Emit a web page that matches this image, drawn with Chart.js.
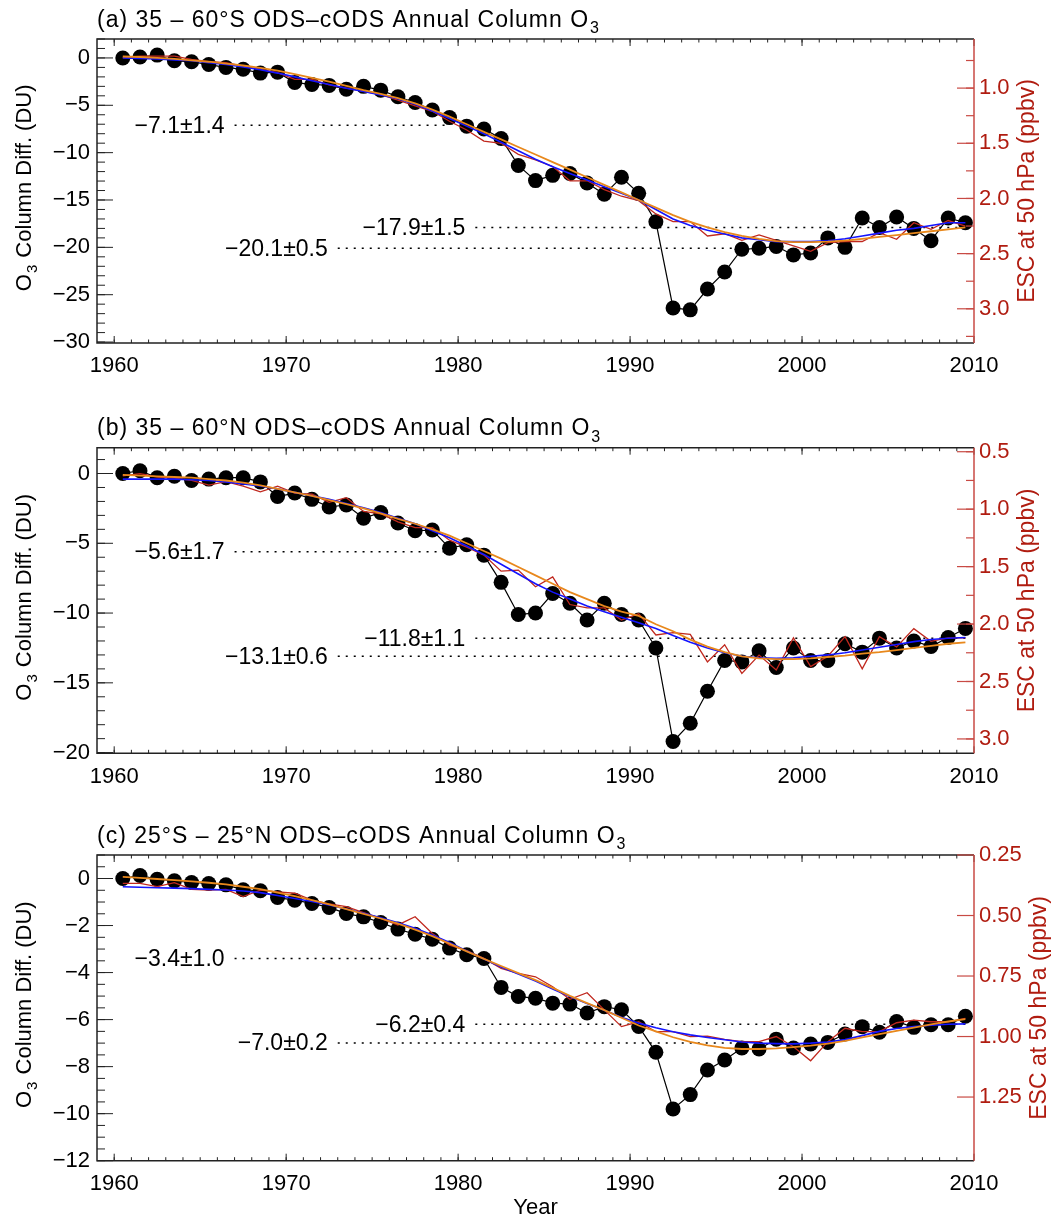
<!DOCTYPE html>
<html>
<head>
<meta charset="utf-8">
<script src="https://cdn.jsdelivr.net/npm/chart.js@4.4.1/dist/chart.umd.min.js"></script>
<style>
  html, body { margin: 0; padding: 0; background: #fff; }
  #wrap { position: relative; width: 1055px; height: 1225px; }
  canvas { position: absolute; left: 0; }
</style>
</head>
<body>
<div id="wrap">
  <canvas id="panel-a"></canvas>
  <canvas id="panel-b"></canvas>
  <canvas id="panel-c"></canvas>
</div>
<script>
// ---- data ----
const years = [1960, 1961, 1962, 1963, 1964, 1965, 1966, 1967, 1968, 1969,
  1970, 1971, 1972, 1973, 1974, 1975, 1976, 1977, 1978, 1979,
  1980, 1981, 1982, 1983, 1984, 1985, 1986, 1987, 1988, 1989,
  1990, 1991, 1992, 1993, 1994, 1995, 1996, 1997, 1998, 1999,
  2000, 2001, 2002, 2003, 2004, 2005, 2006, 2007, 2008, 2009];
const xMajorTicks = [1960, 1970, 1980, 1990, 2000, 2010];
const xMajorLabels = ['1960', '1970', '1980', '1990', '2000', '2010'];

// (a) 35-60S
const o3A = [0.0, 0.1, 0.3, -0.3, -0.4, -0.7, -1.0, -1.2, -1.6, -1.5,
  -2.6, -2.8, -2.9, -3.3, -3.0, -3.4, -4.1, -4.7, -5.5, -6.3,
  -7.2, -7.5, -8.5, -11.35, -12.95, -12.4, -12.2, -13.2, -14.4, -12.6,
  -14.3, -17.3, -26.4, -26.6, -24.4, -22.6, -20.2, -20.1, -19.9, -20.8,
  -20.6, -19.0, -20.0, -16.9, -17.9, -16.8, -18.0, -19.3, -16.9, -17.4];
const fitBlueA = [0.0, -0.05, -0.1, -0.2, -0.3, -0.5, -0.7, -0.95, -1.25, -1.6,
  -2.0, -2.4, -2.8, -3.2, -3.55, -3.9, -4.3, -4.9, -5.6, -6.4,
  -7.2, -8.0, -8.9, -9.8, -10.7, -11.5, -12.2, -12.9, -13.6, -14.3,
  -15.0, -16.0, -17.0, -17.7, -18.2, -18.6, -19.0, -19.2, -19.4, -19.4,
  -19.4, -19.3, -19.1, -18.8, -18.5, -18.2, -18.0, -17.7, -17.4, -17.4];
const fitOrangeA = [0.15, 0.1, 0.0, -0.1, -0.25, -0.4, -0.6, -0.8, -1.05, -1.35,
  -1.7, -2.1, -2.5, -2.95, -3.4, -3.8, -4.25, -4.8, -5.45, -6.2,
  -7.0, -7.8, -8.6, -9.4, -10.2, -11.0, -11.8, -12.6, -13.4, -14.2,
  -15.0, -15.8, -16.6, -17.3, -17.9, -18.4, -18.8, -19.1, -19.35, -19.45,
  -19.45, -19.4, -19.3, -19.1, -18.9, -18.7, -18.5, -18.3, -18.1, -17.9];
const escA = [0.725, 0.71, 0.71, 0.71, 0.74, 0.76, 0.77, 0.80, 0.83, 0.86,
  0.92, 0.92, 0.97, 1.00, 1.03, 1.06, 1.11, 1.16, 1.21, 1.30,
  1.38, 1.48, 1.50, 1.60, 1.65, 1.71, 1.84, 1.84, 1.92, 1.98,
  2.02, 2.14, 2.21, 2.21, 2.34, 2.32, 2.38, 2.33, 2.38, 2.43,
  2.48, 2.40, 2.39, 2.39, 2.31, 2.37, 2.22, 2.28, 2.20, 2.25];
const o3TicksA = [0, -5, -10, -15, -20, -25, -30];
const o3LabelsA = ['0', '\u22125', '\u221210', '\u221215', '\u221220', '\u221225', '\u221230'];
const escTicksA = [1.0, 1.5, 2.0, 2.5, 3.0];
const escLabelsA = ['1.0', '1.5', '2.0', '2.5', '3.0'];
const noteValuesA = [-7.1, -17.9, -20.1];
const noteLabelsA = ['\u22127.1\u00b11.4', '\u221217.9\u00b11.5', '\u221220.1\u00b10.5'];
const noteFromA = [1967, 1981, 1973];
const noteToA = [1979.5, 2009.5, 1996];

// (b) 35-60N
const o3B = [0.0, 0.2, -0.3, -0.2, -0.5, -0.4, -0.3, -0.3, -0.6, -1.65,
  -1.4, -1.85, -2.4, -2.25, -3.2, -2.8, -3.55, -4.1, -4.05, -5.35,
  -5.1, -5.85, -7.8, -10.1, -10.0, -8.6, -9.3, -10.5, -9.3, -10.1,
  -10.5, -12.5, -19.2, -17.9, -15.6, -13.4, -13.5, -12.7, -13.9, -12.5,
  -13.4, -13.4, -12.2, -12.8, -11.8, -12.5, -12.0, -12.4, -11.75, -11.1];
const fitBlueB = [-0.4, -0.4, -0.4, -0.4, -0.45, -0.5, -0.6, -0.75, -0.9, -1.1,
  -1.35, -1.6, -1.85, -2.15, -2.45, -2.8, -3.2, -3.6, -4.1, -4.6,
  -5.2, -5.8, -6.5, -7.2, -7.9, -8.5, -9.0, -9.5, -9.9, -10.3,
  -10.7, -11.1, -11.6, -12.1, -12.5, -12.85, -13.1, -13.2, -13.25, -13.2,
  -13.1, -13.0, -12.85, -12.65, -12.45, -12.25, -12.05, -11.9, -11.8, -11.75];
const fitOrangeB = [-0.1, -0.15, -0.2, -0.25, -0.3, -0.4, -0.5, -0.65, -0.85, -1.1,
  -1.35, -1.6, -1.9, -2.2, -2.5, -2.85, -3.25, -3.6, -4.0, -4.45,
  -5.0, -5.55, -6.1, -6.7, -7.3, -7.9, -8.5, -9.0, -9.5, -9.9,
  -10.2, -10.8, -11.3, -11.9, -12.4, -12.8, -13.1, -13.25, -13.3, -13.3,
  -13.25, -13.15, -13.05, -12.9, -12.8, -12.65, -12.5, -12.35, -12.2, -12.1];
const escB = [0.71, 0.69, 0.72, 0.73, 0.75, 0.79, 0.76, 0.80, 0.85, 0.80,
  0.86, 0.87, 0.94, 0.90, 1.02, 1.04, 1.11, 1.16, 1.16, 1.27,
  1.33, 1.40, 1.54, 1.53, 1.675, 1.59, 1.83, 1.86, 1.86, 1.965,
  1.91, 2.095, 2.075, 2.09, 2.33, 2.18, 2.43, 2.27, 2.40, 2.12,
  2.37, 2.28, 2.11, 2.39, 2.11, 2.20, 2.04, 2.15, 2.12, 2.12];
const o3TicksB = [0, -5, -10, -15, -20];
const o3LabelsB = ['0', '\u22125', '\u221210', '\u221215', '\u221220'];
const escTicksB = [0.5, 1.0, 1.5, 2.0, 2.5, 3.0];
const escLabelsB = ['0.5', '1.0', '1.5', '2.0', '2.5', '3.0'];
const noteValuesB = [-5.6, -11.8, -13.1];
const noteLabelsB = ['\u22125.6\u00b11.7', '\u221211.8\u00b11.1', '\u221213.1\u00b10.6'];
const noteFromB = [1967, 1981, 1973];
const noteToB = [1979.5, 2009.5, 1995.6];

// (c) 25S-25N
const o3C = [0.0, 0.13, -0.03, -0.1, -0.17, -0.21, -0.27, -0.48, -0.52, -0.81,
  -0.92, -1.06, -1.23, -1.49, -1.63, -1.87, -2.15, -2.37, -2.58, -2.96,
  -3.24, -3.40, -4.63, -5.02, -5.09, -5.30, -5.34, -5.72, -5.45, -5.58,
  -6.29, -7.39, -9.80, -9.19, -8.14, -7.72, -7.21, -7.25, -6.83, -7.21,
  -7.04, -6.97, -6.61, -6.30, -6.54, -6.08, -6.33, -6.22, -6.22, -5.86];
const fitBlueC = [-0.35, -0.37, -0.39, -0.41, -0.43, -0.46, -0.49, -0.53, -0.6, -0.72,
  -0.85, -0.98, -1.13, -1.3, -1.48, -1.67, -1.88, -2.12, -2.4, -2.72,
  -3.08, -3.42, -3.76, -4.06, -4.36, -4.7, -5.02, -5.32, -5.6, -5.9,
  -6.15, -6.35, -6.52, -6.65, -6.76, -6.86, -6.95, -7.0, -7.02, -7.03,
  -7.0, -6.95, -6.85, -6.68, -6.5, -6.38, -6.3, -6.24, -6.2, -6.18];
const fitOrangeC = [0.07, 0.03, -0.02, -0.07, -0.12, -0.18, -0.25, -0.35, -0.45, -0.6,
  -0.75, -0.92, -1.1, -1.3, -1.5, -1.7, -1.92, -2.17, -2.45, -2.77,
  -3.1, -3.42, -3.72, -4.02, -4.32, -4.65, -4.99, -5.3, -5.6, -5.92,
  -6.25, -6.5, -6.75, -6.95, -7.1, -7.2, -7.25, -7.25, -7.22, -7.17,
  -7.11, -7.02, -6.9, -6.76, -6.62, -6.48, -6.34, -6.2, -6.08, -5.98];
const escC = [0.367, 0.367, 0.381, 0.364, 0.392, 0.395, 0.392, 0.422, 0.395, 0.402,
  0.408, 0.436, 0.452, 0.463, 0.488, 0.512, 0.539, 0.505, 0.574, 0.622,
  0.645, 0.677, 0.718, 0.739, 0.753, 0.794, 0.846, 0.819, 0.89, 0.959,
  0.939, 0.98, 0.98, 1.0, 0.998, 1.012, 1.021, 1.021, 1.0, 1.042,
  1.10, 1.021, 0.966, 0.98, 0.98, 0.943, 0.932, 0.939, 0.939, 0.925];
const o3TicksC = [0, -2, -4, -6, -8, -10, -12];
const o3LabelsC = ['0', '\u22122', '\u22124', '\u22126', '\u22128', '\u221210', '\u221212'];
const escTicksC = [0.25, 0.5, 0.75, 1.0, 1.25];
const escLabelsC = ['0.25', '0.50', '0.75', '1.00', '1.25'];
const noteValuesC = [-3.4, -6.2, -7.0];
const noteLabelsC = ['\u22123.4\u00b11.0', '\u22126.2\u00b10.4', '\u22127.0\u00b10.2'];
const noteFromC = [1967, 1981, 1973];
const noteToC = [1979.5, 2009.5, 1996.4];

// ---- drawing ----
const FONT = "'Liberation Sans', Helvetica, Arial, sans-serif";
const ESC_RED = '#b01c10';
const ESC_AXIS = '#c84a44';
Chart.defaults.font.family = FONT;

const panels = [
  {
    id: 'panel-a', top: 0, height: 408, areaTop: 39, areaBottom: 343,
    title: '(a) 35 \u2013 60\u00b0S ODS\u2013cODS Annual Column O',
    o3: o3A, blue: fitBlueA, orange: fitOrangeA, esc: escA,
    yMin: -30.1, yMax: 2.0, yTicks: o3TicksA, yLabels: o3LabelsA, yMinor: 1,
    escMin: 0.555, escMax: 3.31, escTicks: escTicksA, escLabels: escLabelsA, escMinor: 0.25,
    notes: [noteValuesA, noteLabelsA, noteFromA, noteToA], rightTitleX: 1026, xTitle: false
  },
  {
    id: 'panel-b', top: 408, height: 408, areaTop: 39.7, areaBottom: 345.3,
    title: '(b) 35 \u2013 60\u00b0N ODS\u2013cODS Annual Column O',
    o3: o3B, blue: fitBlueB, orange: fitOrangeB, esc: escB,
    yMin: -20.05, yMax: 1.85, yTicks: o3TicksB, yLabels: o3LabelsB, yMinor: 1,
    escMin: 0.465, escMax: 3.125, escTicks: escTicksB, escLabels: escLabelsB, escMinor: 0.25,
    notes: [noteValuesB, noteLabelsB, noteFromB, noteToB], rightTitleX: 1026, xTitle: false
  },
  {
    id: 'panel-c', top: 816, height: 409, areaTop: 39, areaBottom: 344.7,
    title: '(c) 25\u00b0S \u2013 25\u00b0N ODS\u2013cODS Annual Column O',
    o3: o3C, blue: fitBlueC, orange: fitOrangeC, esc: escC,
    yMin: -12, yMax: 1, yTicks: o3TicksC, yLabels: o3LabelsC, yMinor: 0.5,
    escMin: 0.25, escMax: 1.513, escTicks: escTicksC, escLabels: escLabelsC, escMinor: 0,
    notes: [noteValuesC, noteLabelsC, noteFromC, noteToC], rightTitleX: 1038, xTitle: true
  }
];

function toPoints(values) {
  return years.map((yr, i) => ({ x: yr + 0.5, y: values[i] }));
}

// text followed by a subscript "3"
function drawSubText(ctx, text, x, y, size) {
  ctx.font = size + 'px ' + FONT;
  ctx.fillText(text, x, y);
  const w = ctx.measureText(text).width;
  ctx.font = Math.round(size * 0.68) + 'px ' + FONT;
  ctx.fillText('3', x + w + 1, y + size * 0.3);
  return w + 1 + ctx.measureText('3').width;
}

function framePlugin(panel) {
  return {
    id: 'frame-' + panel.id,
    afterDatasetsDraw(chart) {
      const { ctx, chartArea: a, scales } = chart;
      const xs = scales.x, ys = scales.y, es = scales.y2;
      ctx.save();

      // note labels next to the dotted lines
      const [vals, labs, from] = panel.notes;
      ctx.fillStyle = '#000';
      ctx.font = '23px ' + FONT;
      ctx.textAlign = 'right';
      ctx.textBaseline = 'middle';
      vals.forEach((v, i) => {
        ctx.fillText(labs[i], xs.getPixelForValue(from[i]) - 10, ys.getPixelForValue(v) + 1);
      });

      // box
      ctx.lineWidth = 1.5;
      ctx.strokeStyle = '#222';
      ctx.beginPath();
      ctx.moveTo(a.right, a.top); ctx.lineTo(a.left, a.top);
      ctx.lineTo(a.left, a.bottom); ctx.lineTo(a.right, a.bottom);
      ctx.stroke();

      // x ticks, top and bottom, pointing inward
      ctx.lineWidth = 1;
      const xTick = (v, len) => {
        const px = xs.getPixelForValue(v);
        ctx.beginPath();
        ctx.moveTo(px, a.bottom); ctx.lineTo(px, a.bottom - len);
        ctx.moveTo(px, a.top); ctx.lineTo(px, a.top + len);
        ctx.stroke();
      };
      years.forEach(v => xTick(v, 3.5));
      xMajorTicks.forEach(v => xTick(v, 7));

      // left axis ticks
      const yTick = (v, len) => {
        const py = ys.getPixelForValue(v);
        ctx.beginPath();
        ctx.moveTo(a.left, py); ctx.lineTo(a.left + len, py);
        ctx.stroke();
      };
      for (let v = Math.ceil(panel.yMin / panel.yMinor) * panel.yMinor; v <= panel.yMax; v += panel.yMinor) yTick(v, 8);
      panel.yTicks.forEach(v => yTick(v, 16));

      // right (ESC) axis
      ctx.strokeStyle = ESC_AXIS;
      ctx.lineWidth = 1.5;
      ctx.beginPath();
      ctx.moveTo(a.right, a.top); ctx.lineTo(a.right, a.bottom);
      ctx.stroke();
      ctx.lineWidth = 1.2;
      const eTick = (v, len) => {
        const py = es.getPixelForValue(v);
        ctx.beginPath();
        ctx.moveTo(a.right, py); ctx.lineTo(a.right - len, py);
        ctx.stroke();
      };
      if (panel.escMinor) {
        for (let v = Math.ceil(panel.escMin / panel.escMinor) * panel.escMinor; v <= panel.escMax; v += panel.escMinor) eTick(v, 8);
      }
      panel.escTicks.forEach(v => eTick(v, 17));

      // panel title
      ctx.textAlign = 'left';
      ctx.textBaseline = 'alphabetic';
      ctx.fillStyle = '#000';
      ctx.letterSpacing = '1px';
      drawSubText(ctx, panel.title, 97, a.top - 12.5, 23);
      ctx.letterSpacing = '0px';

      // left axis title
      const midY = (a.top + a.bottom) / 2;
      ctx.save();
      ctx.translate(31, midY);
      ctx.rotate(-Math.PI / 2);
      ctx.font = '22px ' + FONT;
      const full = ctx.measureText('O Column Diff. (DU)').width + 4;
      let x0 = -full / 2;
      ctx.fillText('O', x0, 0);
      x0 += ctx.measureText('O').width + 1;
      ctx.font = '15px ' + FONT;
      ctx.fillText('3', x0, 6);
      x0 += ctx.measureText('3').width + 1;
      ctx.font = '22px ' + FONT;
      ctx.fillText(' Column Diff. (DU)', x0, 0);
      ctx.restore();

      // right axis title
      ctx.save();
      ctx.translate(panel.rightTitleX + 8, midY);
      ctx.rotate(-Math.PI / 2);
      ctx.font = '23px ' + FONT;
      ctx.fillStyle = ESC_RED;
      ctx.textAlign = 'center';
      ctx.fillText('ESC at 50 hPa (ppbv)', 0, 0);
      ctx.restore();

      if (panel.xTitle) {
        ctx.font = '22px ' + FONT;
        ctx.textAlign = 'center';
        ctx.textBaseline = 'middle';
        ctx.fillStyle = '#000';
        ctx.fillText('Year', (a.left + a.right) / 2, 392);
      }
      ctx.restore();
    }
  };
}

panels.forEach(panel => {
  const canvas = document.getElementById(panel.id);
  canvas.width = 1055;
  canvas.height = panel.height;
  canvas.style.top = panel.top + 'px';
  canvas.style.width = '1055px';
  canvas.style.height = panel.height + 'px';

  const [vals, , from, to] = panel.notes;
  const noteSets = vals.map((v, i) => ({
    data: [{ x: from[i], y: v }, { x: to[i], y: v }],
    yAxisID: 'y',
    borderColor: '#000',
    borderWidth: 1.5,
    borderDash: [2, 6],
    pointRadius: 0,
    order: 6
  }));

  new Chart(canvas, {
    type: 'line',
    data: {
      datasets: [
        {
          label: 'ODS-cODS column O3',
          data: toPoints(panel.o3),
          yAxisID: 'y',
          borderColor: '#000',
          borderWidth: 1.2,
          pointRadius: 7.5,
          pointBackgroundColor: '#000',
          pointBorderWidth: 0,
          order: 5
        },
        {
          label: 'ESC 50 hPa',
          data: toPoints(panel.esc),
          yAxisID: 'y2',
          borderColor: '#c0281e',
          borderWidth: 1.3,
          pointRadius: 0,
          order: 3
        },
        {
          label: 'fit blue',
          data: toPoints(panel.blue),
          yAxisID: 'y',
          borderColor: '#1414ff',
          borderWidth: 1.6,
          pointRadius: 0,
          order: 2
        },
        {
          label: 'fit orange',
          data: toPoints(panel.orange),
          yAxisID: 'y',
          borderColor: '#e8881c',
          borderWidth: 1.8,
          pointRadius: 0,
          order: 1
        },
        ...noteSets
      ]
    },
    options: {
      responsive: false,
      animation: false,
      devicePixelRatio: 1,
      layout: { padding: { top: panel.areaTop, left: 0, right: 0, bottom: 0 } },
      plugins: { legend: { display: false }, tooltip: { enabled: false } },
      scales: {
        x: {
          type: 'linear',
          min: 1959,
          max: 2010,
          afterBuildTicks: s => { s.ticks = xMajorTicks.map(v => ({ value: v })); },
          afterFit: s => { s.height = panel.height - panel.areaBottom; },
          grid: { display: false, drawTicks: false },
          border: { display: false },
          ticks: {
            autoSkip: false,
            maxRotation: 0,
            padding: 10,
            color: '#000',
            font: { size: 22 },
            callback: (v, i) => xMajorLabels[i]
          }
        },
        y: {
          position: 'left',
          min: panel.yMin,
          max: panel.yMax,
          afterBuildTicks: s => { s.ticks = panel.yTicks.map(v => ({ value: v })); },
          afterFit: s => { s.width = 97; },
          grid: { display: false, drawTicks: false },
          border: { display: false },
          ticks: {
            padding: 7,
            color: '#000',
            font: { size: 22 },
            callback: (v, i) => panel.yLabels[i]
          }
        },
        y2: {
          position: 'right',
          reverse: true,
          min: panel.escMin,
          max: panel.escMax,
          afterBuildTicks: s => { s.ticks = panel.escTicks.map(v => ({ value: v })); },
          afterFit: s => { s.width = 1055 - 974; },
          grid: { display: false, drawTicks: false },
          border: { display: false },
          ticks: {
            padding: 5,
            color: ESC_RED,
            font: { size: 22 },
            callback: (v, i) => panel.escLabels[i]
          }
        }
      }
    },
    plugins: [framePlugin(panel)]
  });
});
</script>
</body>
</html>
